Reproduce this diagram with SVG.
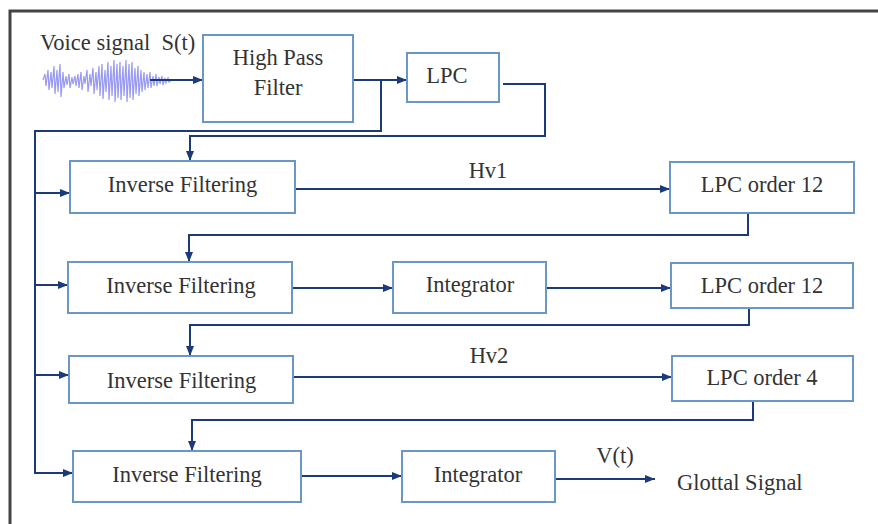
<svg xmlns="http://www.w3.org/2000/svg" width="878" height="524" viewBox="0 0 878 524" font-family="'Liberation Serif', 'Times New Roman', 'DejaVu Serif', serif">
<defs>
<marker id="arr" viewBox="0 0 10 8" refX="10" refY="4" markerWidth="10" markerHeight="8" markerUnits="userSpaceOnUse" orient="auto">
<path d="M0,0 L10,4 L0,8 Z" fill="#1b3a78"/>
</marker>
<style>
.box{fill:#fff;stroke:#6b97c4;stroke-width:2}
text{font-family:'Liberation Serif','Times New Roman',serif;font-size:22.5px;fill:#333}
.t{text-anchor:middle}
.tl{white-space:pre}
.ca{fill:none;stroke:#1b3a78;stroke-width:2;marker-end:url(#arr)}
</style>
</defs>
<rect width="878" height="524" fill="#fff"/>
<g id="frame">
<path d="M10,524 V11 H878" fill="none" stroke="#444" stroke-width="3"/>
</g>
<g id="input">
<text class="tl" x="40" y="50" font-family="Liberation Serif">Voice signal  S(t)</text>
<path d="M43,80 L45,74 L46,86 L48,70 L49,90 L51,72 L52,88 L54,66 L55,94 L57,70 L58,92 L60,64 L61,97 L63,72 L64,88 L66,76 L67,85 L69,74 L70,88 L72,77 L73,84 L75,76 L76,86 L78,74 L79,88 L81,72 L82,90 L84,76 L85,84 L87,70 L88,92 L90,74 L91,86 L93,68 L94,94 L96,72 L97,90 L99,66 L100,96 L102,64 L103,99 L105,70 L106,92 L108,62 L109,100 L111,66 L112,96 L114,60 L115,102 L117,64 L118,98 L120,62 L121,100 L123,66 L124,96 L126,60 L127,102 L129,64 L130,98 L132,62 L133,100 L135,68 L136,94 L138,66 L139,96 L141,70 L142,92 L144,72 L145,90 L147,74 L148,88 L150,72 L151,88 L153,76 L154,86 L156,74 L157,86 L159,77 L160,84 L162,76 L163,85 L165,78 L166,83 L168,78 L169,82 L172,80" fill="none" stroke="#9a9af2" stroke-width="1.2"/>
</g>
<g id="connectors">
<path class="ca" d="M150,80 H203"/>
<path class="ca" d="M353,80 H407"/>
<path class="ca" d="M381,80 V131 H35 V473 H73"/>
<path class="ca" d="M35,193 H70"/>
<path class="ca" d="M35,285 H68"/>
<path class="ca" d="M35,375 H69"/>
<path class="ca" d="M503,84 H545 V136 H190 V161"/>
<path class="ca" d="M295,189 H670"/>
<path class="ca" d="M748,213 V235 H189 V262"/>
<path class="ca" d="M292,288 H393"/>
<path class="ca" d="M546,288 H671"/>
<path class="ca" d="M749,308 V325 H190 V356"/>
<path class="ca" d="M293,377 H672"/>
<path class="ca" d="M753,401 V420 H192 V451"/>
<path class="ca" d="M301,476 H402"/>
<path class="ca" d="M555,479 H655"/>
</g>
<g id="hpf"><rect class="box" x="203" y="35" width="150" height="87"/><text class="t" x="278" y="65">High Pass</text><text class="t" x="278" y="95">Filter</text></g>
<g id="lpc"><rect class="box" x="407" y="53" width="92" height="49"/><text class="t" x="447" y="83">LPC</text></g>
<g id="if1"><rect class="box" x="70" y="161" width="225" height="52"/><text class="t" x="182.5" y="192">Inverse Filtering</text></g>
<g id="lpc12a"><rect class="box" x="670" y="162" width="184" height="51"/><text class="t" x="762" y="192">LPC order 12</text></g>
<g id="if2"><rect class="box" x="68" y="262" width="224" height="51"/><text class="t" x="181" y="293">Inverse Filtering</text></g>
<g id="int1"><rect class="box" x="393" y="262" width="153" height="51"/><text class="t" x="470" y="292">Integrator</text></g>
<g id="lpc12b"><rect class="box" x="671" y="263" width="182" height="45"/><text class="t" x="762" y="293">LPC order 12</text></g>
<g id="if3"><rect class="box" x="69" y="356" width="224" height="47"/><text class="t" x="181.5" y="388">Inverse Filtering</text></g>
<g id="lpc4"><rect class="box" x="672" y="356" width="181" height="45"/><text class="t" x="762" y="385">LPC order 4</text></g>
<g id="if4"><rect class="box" x="73" y="451" width="228" height="51"/><text class="t" x="187" y="482">Inverse Filtering</text></g>
<g id="int2"><rect class="box" x="402" y="451" width="153" height="51"/><text class="t" x="478" y="482">Integrator</text></g>
<g id="labels">
<text class="t" x="488" y="178">Hv1</text>
<text class="t" x="489" y="363">Hv2</text>
<text class="t" x="615" y="463">V(t)</text>
<text class="tl" x="677" y="490">Glottal Signal</text>
</g>
</svg>
